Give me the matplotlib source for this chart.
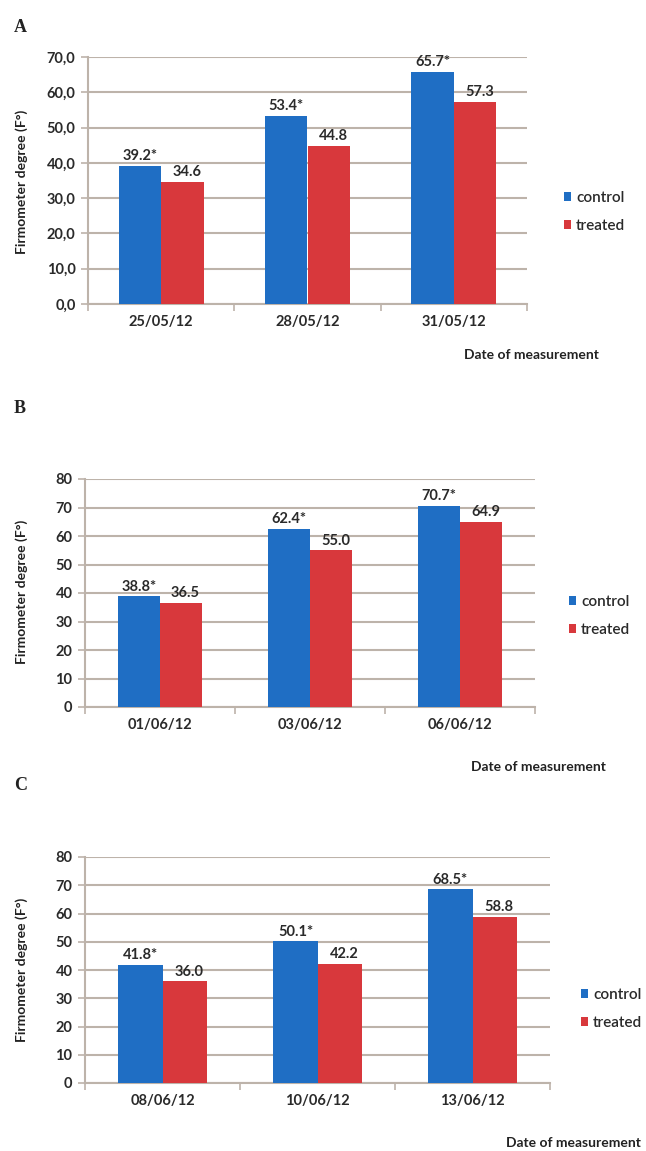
import matplotlib
matplotlib.use('Agg')
from matplotlib import pyplot as plt
import numpy as np

# data
datesA = ['25/05/12', '28/05/12', '31/05/12']
controlA = [39.2, 53.4, 65.7]
treatedA = [34.6, 44.8, 57.3]

datesB = ['01/06/12', '03/06/12', '06/06/12']
controlB = [38.8, 62.4, 70.7]
treatedB = [36.5, 55.0, 64.9]

datesC = ['08/06/12', '10/06/12', '13/06/12']
controlC = [41.8, 50.1, 68.5]
treatedC = [36.0, 42.2, 58.8]

BLUE = '#1f6ec4'
RED = '#d8383c'
GRID = '#bdb3aa'
TXT = '#2a2a2a'

plt.rcParams['font.family'] = ['Lato', 'DejaVu Sans']

W, H = 646, 1151
fig = plt.figure(figsize=(W / 100, H / 100), dpi=100)


def px(x0, y0, x1, y1):
    # pixel box (top-left origin) -> figure fraction
    return [x0 / W, 1 - y1 / H, (x1 - x0) / W, (y1 - y0) / H]


def panel(box, dates, control, treated, ymax, ystep, comma, letter, letterPos,
          ylabPos, xlabPos, legPos, barw):
    ax = fig.add_axes(px(*box))
    x = np.arange(len(dates))
    ax.bar(x - barw / 2, control, barw, color=BLUE, label='control', zorder=3)
    ax.bar(x + barw / 2, treated, barw, color=RED, label='treated', zorder=3)
    for xi, c, t in zip(x, control, treated):
        ax.text(xi - barw / 2, c + ymax * 0.012, f'{c:.1f}*', ha='center', va='bottom',
                fontsize=10.5, color=TXT, fontweight='bold')
        ax.text(xi + barw / 2 + 0.03, t + ymax * 0.012, f'{t:.1f}', ha='center', va='bottom',
                fontsize=10.5, color=TXT, fontweight='bold')
    ax.set_xlim(-0.5, len(dates) - 0.5)
    ax.set_ylim(0, ymax)
    yt = np.arange(0, ymax + 0.1, ystep)
    ax.set_yticks(yt)
    if comma:
        ax.set_yticklabels([f'{v:.1f}'.replace('.', ',') for v in yt])
    else:
        ax.set_yticklabels([f'{v:.0f}' for v in yt])
    ax.set_xticks(x)
    ax.set_xticklabels(dates)
    ax.set_xticks(np.arange(-0.5, len(dates)), minor=True)
    ax.tick_params(axis='x', which='major', length=0, pad=8, labelsize=10.5, labelcolor=TXT)
    ax.tick_params(axis='x', which='minor', length=5, color=GRID, width=1.2)
    ax.tick_params(axis='y', length=5, color=GRID, width=1.2, labelsize=10.5, labelcolor=TXT, pad=4)
    for lab in ax.get_xticklabels() + ax.get_yticklabels():
        lab.set_fontweight('bold')
    ax.grid(axis='y', color=GRID, linewidth=1.5, zorder=0)
    for s in ['top', 'right']:
        ax.spines[s].set_visible(False)
    for s in ['left', 'bottom']:
        ax.spines[s].set_color(GRID)
        ax.spines[s].set_linewidth(1.5)
    fig.text(letterPos[0] / W, 1 - letterPos[1] / H, letter, fontsize=13, fontweight='bold',
             family='Liberation Serif', color='#222222', ha='left', va='center')
    fig.text(ylabPos[0] / W, 1 - ylabPos[1] / H, 'Firmometer degree (F°)', rotation=90,
             fontsize=10, fontweight='bold', color='#222222', ha='center', va='center')
    fig.text(xlabPos[0] / W, 1 - xlabPos[1] / H, 'Date of measurement', fontsize=10,
             fontweight='bold', color='#222222', ha='right', va='center')
    leg = ax.legend(loc='center left', bbox_to_anchor=(legPos[0] / W, 1 - legPos[1] / H),
                    bbox_transform=fig.transFigure, frameon=False, fontsize=11,
                    handlelength=0.5, handleheight=0.5, handletextpad=0.3, labelspacing=0.9,
                    labelcolor=TXT)
    for t in leg.get_texts():
        t.set_fontweight('semibold')
    return ax


panel((88, 57, 527, 304), datesA, controlA, treatedA, 70, 10, True, 'A', (14, 28),
      (22, 182), (599, 355), (550, 212), 0.29)
panel((85, 479, 535, 707), datesB, controlB, treatedB, 80, 10, False, 'B', (14, 409),
      (22, 592), (606, 767), (555, 616), 0.28)
panel((85, 857, 550, 1083), datesC, controlC, treatedC, 80, 10, False, 'C', (14, 786),
      (22, 970), (641, 1143), (567, 1009), 0.285)

fig.savefig('out.png', dpi=100, facecolor='white')
